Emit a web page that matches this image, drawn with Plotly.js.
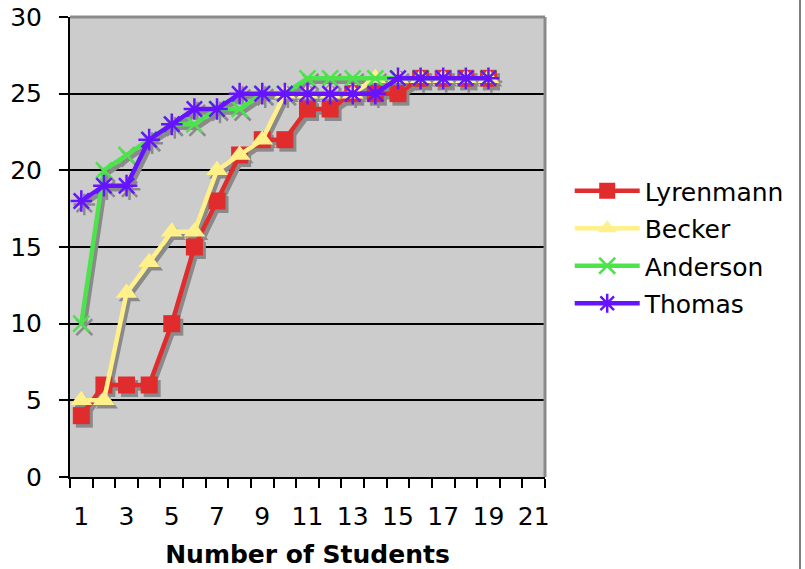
<!DOCTYPE html>
<html>
<head>
<meta charset="utf-8">
<script src="https://cdn.plot.ly/plotly-3.0.1.min.js"></script>
<style>html,body{margin:0;padding:0;background:#fff;}#chart{width:805px;height:569px;}</style>
</head>
<body>
<div id="chart"></div>
<script>
// Data
const students = [1,2,3,4,5,6,7,8,9,10,11,12,13,14,15,16,17,18,19];
const lyrenmann = [4,6,6,6,10,15,18,21,22,22,24,24,25,25,25,26,26,26,26];
const becker    = [5,5,12,14,16,16,20,21,22,25,25,25,25,26,26,26,26,26,26];
const anderson  = [10,20,21,22,23,23,24,24,25,25,26,26,26,26,26,26,26,26,26];
const thomas    = [18,19,19,22,23,24,24,25,25,25,25,25,25,25,26,26,26,26,26];
const seriesNames = ['Lyrenmann','Becker','Anderson','Thomas'];
const xTickLabels = ['1','3','5','7','9','11','13','15','17','19','21'];
const xTickVals = [1,3,5,7,9,11,13,15,17,19,21];

const FONT = 'Verdana, "DejaVu Sans", sans-serif';
const FS = 25;
const styles = [
  {color:'#e02c2c', symbol:'square', size:17, open:false},
  {color:'#fff08a', symbol:'triangle-up', size:19, open:false},
  {color:'#4ce34c', symbol:'x-thin-open', size:16, open:true},
  {color:'#6614ff', symbol:'asterisk-open', size:18, open:true}
];
const values = [lyrenmann, becker, anderson, thomas];

const shadowDX = 3/22.6;   // pixel offset of the shadow, expressed as a shifted axis range
const shadowDY = 3.5/15.33;

function markerFor(st, col){
  if (st.open) return {symbol: st.symbol, size: st.size, color: col, line:{color: col, width: 2.5}};
  return {symbol: st.symbol, size: st.size, color: col, line:{width:0}};
}

const traces = [];
// base subplot anchor trace (no visible marks)
traces.push({x:[students[0]], y:[values[0][0]], xaxis:'x', yaxis:'y', type:'scatter', mode:'markers',
  marker:{opacity:0}, showlegend:false, hoverinfo:'skip'});
values.forEach((v,i)=>{
  traces.push({
    x: students, y: v, xaxis:'x2', yaxis:'y2', type:'scatter', mode:'lines+markers',
    line:{color:'#8a8a8a', width:4.5}, marker: markerFor(styles[i], '#8a8a8a'),
    showlegend:false, hoverinfo:'skip', cliponaxis:false
  });
});
values.forEach((v,i)=>{
  traces.push({
    x: students, y: v, xaxis:'x3', yaxis:'y3', type:'scatter', mode:'lines+markers',
    name: seriesNames[i], legendgroup: 'g'+i,
    line:{color: styles[i].color, width:4.5}, marker: markerFor(styles[i], styles[i].color),
    cliponaxis:false
  });
});

const layout = {
  width:805, height:569,
  margin:{l:70, r:260, t:17, b:92},
  paper_bgcolor:'#ffffff', plot_bgcolor:'#cccccc',
  font:{family:FONT, size:FS, color:'#000'},
  showlegend:true,
  legend:{x:1.052, xanchor:'left', y:0.5, yanchor:'middle', bgcolor:'rgba(0,0,0,0)',
          font:{family:FONT, size:FS, color:'#000'}, itemwidth:65, tracegroupgap:2},
  xaxis:{range:[0.5,21.5], tickmode:'linear', tick0:0.5, dtick:1, ticks:'outside', ticklen:9, tickwidth:2,
         tickcolor:'#000', showticklabels:false, showgrid:false, zeroline:false,
         showline:true, linecolor:'#000', linewidth:2, fixedrange:true},
  yaxis:{range:[0,30], tickmode:'linear', tick0:0, dtick:5, ticks:'outside', ticklen:9, tickwidth:2,
         tickcolor:'#000', showgrid:true, gridcolor:'#000', gridwidth:2, zeroline:false,
         showline:true, linecolor:'#000', linewidth:2, ticklabelstandoff:12,
         tickfont:{family:FONT, size:FS, color:'#000'}, fixedrange:true},
  xaxis2:{overlaying:'x', range:[0.5-shadowDX,21.5-shadowDX], visible:false, fixedrange:true},
  yaxis2:{overlaying:'y', range:[shadowDY,30+shadowDY], visible:false, fixedrange:true},
  xaxis3:{overlaying:'x', range:[0.5,21.5], tickmode:'array', tickvals:xTickVals, ticktext:xTickLabels,
          ticks:'', showgrid:false, zeroline:false, showline:false, ticklabelstandoff:22,
          tickfont:{family:FONT, size:FS, color:'#000'},
          title:{text:'<b>Number of Students</b>', font:{family:FONT, size:FS, color:'#000'}, standoff:17},
          fixedrange:true},
  yaxis3:{overlaying:'y', range:[0,30], visible:false, fixedrange:true},
  shapes:[
    {type:'line', xref:'paper', yref:'paper', x0:0, x1:1, y0:1, y1:1, line:{color:'#8a8a8a', width:3}},
    {type:'line', xref:'paper', yref:'paper', x0:1, x1:1, y0:0, y1:1, line:{color:'#8a8a8a', width:3}},
    {type:'line', xref:'paper', yref:'paper', x0:(800-70)/475, x1:(800-70)/475, y0:-92/460, y1:1+17/460, line:{color:'#555', width:1.5}}
  ]
};

Plotly.newPlot('chart', traces, layout, {displayModeBar:false, staticPlot:true});
</script>
</body>
</html>
